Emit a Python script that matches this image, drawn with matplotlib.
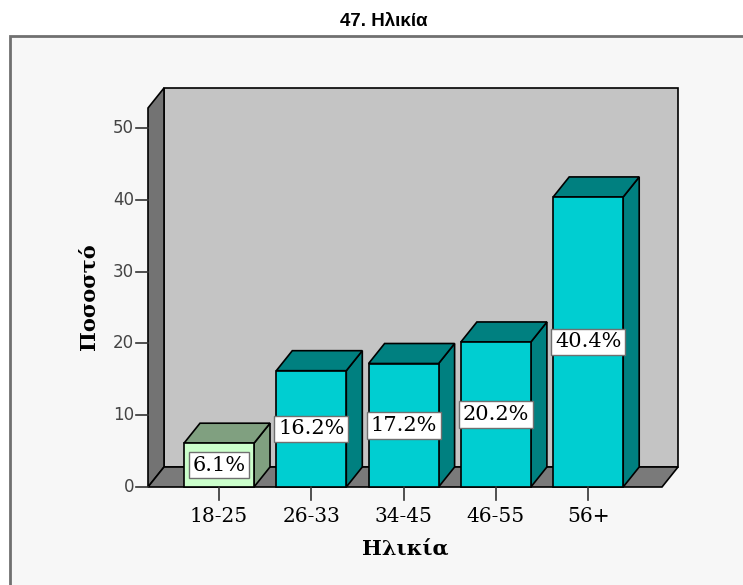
import matplotlib
matplotlib.use("Agg")
import matplotlib.pyplot as plt
from matplotlib.patches import Polygon, Rectangle

# data
categories = ["18-25", "26-33", "34-45", "46-55", "56+"]
values = [6.1, 16.2, 17.2, 20.2, 40.4]
yticks = [0, 10, 20, 30, 40, 50]
title = "47. Ηλικία"
xlabel = "Ηλικία"
ylabel = "Ποσοστό"

# layout (pixel mapping of the original SPSS chart)
W, H = 743, 585
X0_PX, XSTEP_PX = 219, 92.3      # pixel x of first category, spacing
Y0_PX, YUNIT_PX = 487, 7.18      # pixel y of value 0, pixels per unit

def px_x(p):
    return (p - X0_PX) / XSTEP_PX

def px_y(p):
    return (Y0_PX - p) / YUNIT_PX

DX = 16 / XSTEP_PX     # depth offset in x units
DY = 20 / YUNIT_PX     # depth offset in y units
XL, XR = px_x(148), px_x(662)
YTOP = px_y(108)
BW = 70 / XSTEP_PX

fig = plt.figure(figsize=(W / 100, H / 100), dpi=100)
fig.text(384 / W, 1 - 22 / H, title, ha="center", va="center",
         fontsize=13.5, fontweight="bold", family="Liberation Sans")

ax = fig.add_axes([0, 0, 1, 1])
ax.set_xlim(px_x(0), px_x(W))
ax.set_ylim(px_y(H), px_y(0))
ax.axis("off")
ax.patch.set_alpha(0)

# outer frame of the chart area
ax.add_patch(Rectangle((px_x(10), px_y(H + 20)), (W + 20) / XSTEP_PX,
                       (H + 20 - 35.5) / YUNIT_PX, facecolor="#f7f7f7",
                       edgecolor="#707070", lw=2, zorder=0))

edge = dict(edgecolor="black", lw=1.2, joinstyle="miter", zorder=2)

# back wall, left wall, floor
ax.add_patch(Polygon([(XL + DX, DY), (XR + DX, DY), (XR + DX, YTOP + DY),
                      (XL + DX, YTOP + DY)], facecolor="#c4c4c4", **edge))
ax.add_patch(Polygon([(XL, 0), (XL, YTOP), (XL + DX, YTOP + DY), (XL + DX, DY)],
                     facecolor="#737373", **edge))
ax.add_patch(Polygon([(XL, 0), (XR, 0), (XR + DX, DY), (XL + DX, DY)],
                     facecolor="#7a7a7a", **edge))

# bars
for i, v in enumerate(values):
    if i == 0:
        face, dark = "#ccffcc", "#80a080"
    else:
        face, dark = "#00ced1", "#008080"
    x0, x1 = i - BW / 2, i + BW / 2
    ax.add_patch(Polygon([(x1, 0), (x1, v), (x1 + DX, v + DY), (x1 + DX, DY)],
                         facecolor=dark, **edge))
    ax.add_patch(Polygon([(x0, v), (x1, v), (x1 + DX, v + DY), (x0 + DX, v + DY)],
                         facecolor=dark, **edge))
    ax.add_patch(Rectangle((x0, 0), BW, v, facecolor=face, **edge))
    ax.text(i, v / 2, f"{v:.1f}%", ha="center", va="center", fontsize=15,
            family="DejaVu Serif", zorder=3,
            bbox=dict(boxstyle="square,pad=0.18", facecolor="white",
                      edgecolor="#707070", lw=1))

# y axis ticks
for t in yticks:
    ax.plot([XL - 12 / XSTEP_PX, XL], [t, t], color="#333333", lw=1.2, zorder=2)
    ax.text(XL - 14 / XSTEP_PX, t, str(t), ha="right", va="center",
            fontsize=12, color="#444444", family="DejaVu Sans")

# x axis ticks
for i, c in enumerate(categories):
    ax.plot([i, i], [0, -13 / YUNIT_PX], color="#333333", lw=1.2, zorder=2)
    ax.text(i, px_y(517), c, ha="center", va="center", fontsize=14.5,
            family="DejaVu Serif")

ax.text(px_x(405), px_y(549), xlabel, ha="center", va="center", fontsize=15,
        fontweight="bold", family="DejaVu Serif")
ax.text(px_x(88), px_y(297), ylabel, ha="center", va="center", fontsize=15,
        fontweight="bold", family="DejaVu Serif", rotation=90)

fig.savefig("out.png", dpi=100)
